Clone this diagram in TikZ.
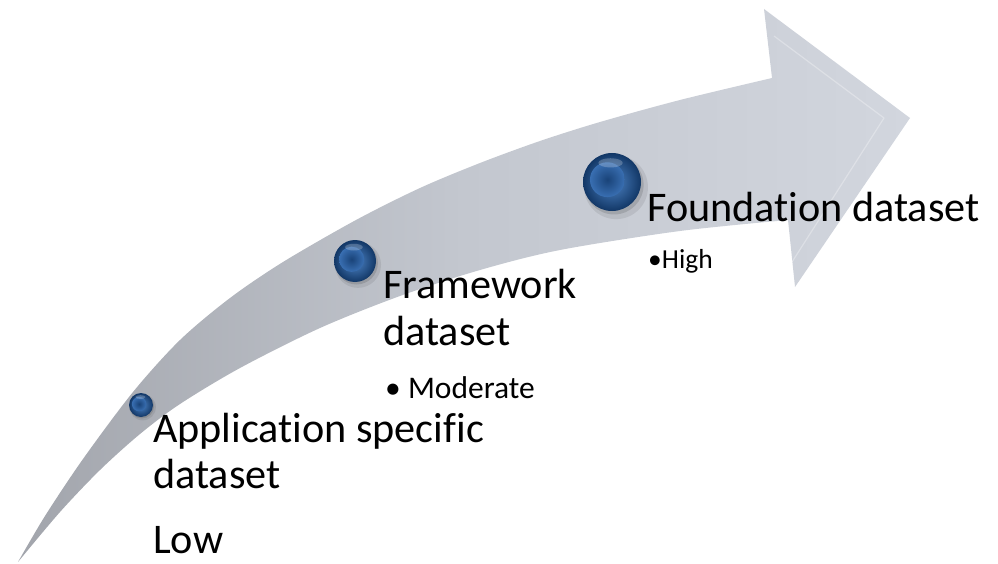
\documentclass[tikz,border=0pt]{standalone}
\usepackage{fontspec}
\setmainfont{Carlito}[Ligatures=NoCommon, RawFeature={-liga;-clig;-calt;-dlig}]
\usetikzlibrary{calc}

\definecolor{orbdark}{HTML}{123766}
\definecolor{orbmid}{HTML}{2A5FA3}
\definecolor{orblight}{HTML}{4F86C8}
\definecolor{shafttail}{HTML}{A2A5AC}
\definecolor{shaftmid}{HTML}{C3C7CF}
\definecolor{shafthead}{HTML}{D2D6DE}

% keeps "t" and "i" as separate letters
\newcommand\brk{\kern0pt\relax}

\tikzset{
  bigtext/.style={anchor=base west, inner sep=0pt, text=black,
    font=\fontsize{42.2}{47}\selectfont},
  midtext/.style={anchor=base west, inner sep=0pt, text=black,
    font=\fontsize{31.5}{36}\selectfont},
  smalltext/.style={anchor=base west, inner sep=0pt, text=black,
    font=\fontsize{27.5}{32}\selectfont},
  bead/.style={circle, inner sep=0pt, inner color=orblight, outer color=orbdark},
}

% a glossy bead: name, centre, radius
\newcommand\orb[3]{%
  \fill[black,opacity=0.08] ($#2+({0.14*#3},{0.18*#3})$) circle ({1.10*#3});
  \fill[black,opacity=0.12] ($#2+({0.07*#3},{0.10*#3})$) circle ({1.02*#3});
  \node[bead, minimum size={2*#3}] (#1) at #2 {};
  \shade[inner color=orbdark!70!orbmid, outer color=orbmid!60!orblight]
    ($(#1.center)+({-0.16*#3},{-0.08*#3})$) circle ({0.60*#3});
  \fill[white,opacity=0.22]
    ($(#1.center)+({-0.05*#3},{-0.66*#3})$) ellipse ({0.42*#3} and {0.16*#3});
}

\begin{document}
\begin{tikzpicture}[x=1pt,y=-1pt]
\useasboundingbox (0,0) rectangle (998,564);

% curved arrow body
\shade[left color=shafttail, right color=shafthead, middle color=shaftmid]
  (18,562) -- plot[smooth, tension=0.5] coordinates {
    (18,562) (45,516) (83,459) (133,392) (180,340) (230,298) (283,262)
    (356,220) (420,188) (480,163) (540,141) (600,122) (680,100) (772,78)}
  -- (764,9) -- (910,118) -- (795,287)
  -- plot[smooth, tension=0.5] coordinates {
    (788,220) (680,231) (560,250) (480,270) (400,296) (320,328) (240,368)
    (180,404) (140,434) (100,470) (60,512) (18,562)}
  -- cycle;

% faint bevel on the arrow head
\draw[white, opacity=0.30, line width=1.2pt, line join=round]
  (774,36) -- (884,118) -- (792,262);

% beads along the arrow
\orb{beadlow}{(141,405)}{12}
\orb{beadmid}{(355,261)}{21}
\orb{beadhigh}{(612,182)}{29}

% labels
\node[bigtext] (app1) at (153,442) {Applicat\brk ion specific};
\node[bigtext] (app2) at (153,488) {dataset};
\node[bigtext] (low)  at (153,553) {Low};

\node[bigtext] (fw1) at (383,298) {Framework};
\node[bigtext] (fw2) at (383,345) {dataset};
\node[midtext] (mod) at (385,398) {• Moderate};

\node[bigtext]   (fd)   at (647,222) {Foundat\brk ion dataset};
\node[smalltext] (high) at (648,268) {•High};
\end{tikzpicture}
\end{document}
